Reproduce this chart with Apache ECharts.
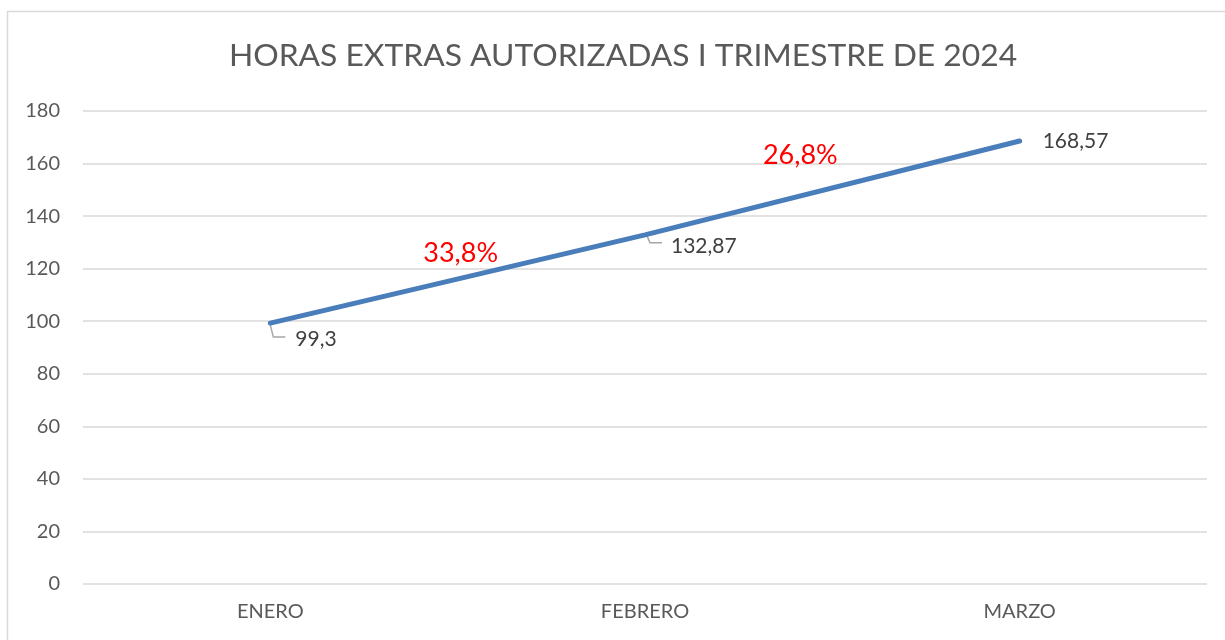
<!DOCTYPE html>
<html>
<head>
<meta charset="utf-8">
<script src="https://cdn.jsdelivr.net/npm/echarts@6/dist/echarts.min.js"></script>
<style>html,body{margin:0;padding:0;background:#fff;}#c{width:1225px;height:640px;}</style>
</head>
<body>
<div id="c"></div>
<script>
const titleText = 'HORAS EXTRAS AUTORIZADAS I TRIMESTRE DE 2024';
const categories = ['ENERO', 'FEBRERO', 'MARZO'];
const values = [99.3, 132.87, 168.57];
const valueLabels = ['99,3', '132,87', '168,57'];
const changeLabels = ['33,8%', '26,8%'];
const yTicks = [0, 20, 40, 60, 80, 100, 120, 140, 160, 180];

const FONT = 'Lato';
const chart = echarts.init(document.getElementById('c'));

// label placement relative to each point, and leader-line elbows (null = none)
const labelOffsets = [[24, 16], [25, 11], [22, 0]];
const leaders = [
  [[0, 2], [3, 14], [15, 14]],
  [[2, 1], [5, 8], [17, 8]],
  null
];

const option = {
  animation: false,
  backgroundColor: '#fff',
  title: {
    text: titleText,
    left: 621, top: 35, textAlign: 'center',
    textStyle: { fontFamily: FONT, fontSize: 31.8, fontWeight: 'normal', color: '#595959' }
  },
  grid: { left: 83, right: 18, top: 111, bottom: 56 },
  xAxis: {
    type: 'category',
    data: categories,
    boundaryGap: true,
    axisLine: { show: false },
    axisTick: { show: false },
    axisLabel: { color: '#595959', fontFamily: FONT, fontSize: 20, margin: 18 }
  },
  yAxis: {
    type: 'value',
    min: yTicks[0], max: yTicks[yTicks.length - 1], interval: 20,
    axisLine: { show: false },
    axisTick: { show: false },
    axisLabel: { color: '#595959', fontFamily: FONT, fontSize: 20, margin: 23 },
    splitLine: { lineStyle: { color: '#d9d9d9', width: 1.5 } }
  },
  series: [{
    type: 'line',
    data: values.map(v => ({ value: v })),
    symbol: 'circle',
    symbolSize: 2,
    showSymbol: true,
    itemStyle: { color: '#4a7ebb' },
    lineStyle: { color: '#4a7ebb', width: 5, cap: 'round' },
    label: {
      show: true,
      position: 'right',
      distance: 0,
      color: '#404040',
      fontFamily: FONT,
      fontSize: 21,
      formatter: p => valueLabels[p.dataIndex]
    },
    labelLayout: p => {
      const o = labelOffsets[p.dataIndex];
      return { dx: o[0], dy: o[1] };
    }
  }]
};
chart.setOption(option);

const gs = [{
  type: 'rect', silent: true, z: -1,
  shape: { x: 7.5, y: 11.5, width: 1300, height: 800 },
  style: { fill: 'none', stroke: '#d9d9d9', lineWidth: 1.5 }
}];
for (let i = 0; i < values.length; i++) {
  if (!leaders[i]) continue;
  const p = chart.convertToPixel({ seriesIndex: 0 }, [i, values[i]]);
  gs.push({
    type: 'polyline', silent: true, z: 1,
    shape: { points: leaders[i].map(d => [p[0] + d[0], p[1] + d[1]]) },
    style: { stroke: '#a6a6a6', lineWidth: 1.5, fill: null }
  });
}
const annOffsets = [[3, -26], [-32, -33]];
for (let i = 0; i < changeLabels.length; i++) {
  const a = chart.convertToPixel({ seriesIndex: 0 }, [i, values[i]]);
  const b = chart.convertToPixel({ seriesIndex: 0 }, [i + 1, values[i + 1]]);
  gs.push({
    type: 'text', silent: true,
    x: (a[0] + b[0]) / 2 + annOffsets[i][0],
    y: (a[1] + b[1]) / 2 + annOffsets[i][1],
    style: {
      text: changeLabels[i], fill: '#ff0000',
      font: '27px ' + FONT, align: 'center', verticalAlign: 'middle'
    }
  });
}
chart.setOption({ graphic: gs.map((g, k) => k === 0 ? g : g) });
chart.setOption({ title: { left: 618 } });
</script>
</body>
</html>
